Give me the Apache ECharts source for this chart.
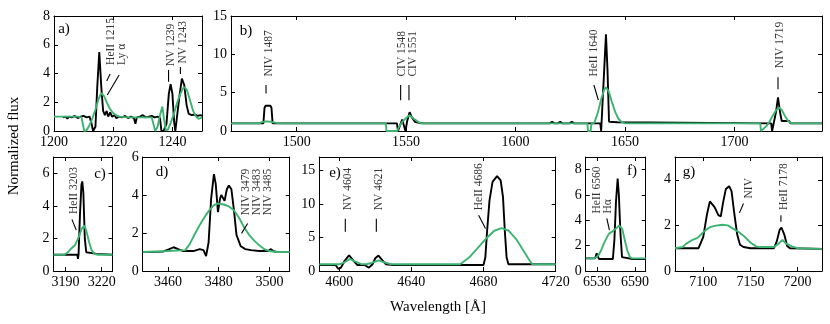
<!DOCTYPE html>
<html>
<head>
<meta charset="utf-8">
<script src="https://cdn.jsdelivr.net/npm/echarts@6/dist/echarts.min.js"></script>
<style>
  html, body { margin: 0; padding: 0; background: #fff; }
  #chart { width: 830px; height: 324px; }
</style>
</head>
<body>
<div id="chart"></div>
<script>
// observed (black) and model (green) spectra, [wavelength, flux]
const aObs = [[1203,0.95],[1204,1.0],[1204.5,0.85],[1205,1.0],[1206,0.95],[1207,1.05],[1208,0.9],[1209,1.0],[1210,1.05],[1211,0.95],[1212,1.0],[1212.6,0.6],[1213.2,0],[1214,0.3],[1214.6,3.0],[1215.3,5.5],[1216,3.0],[1216.6,1.4],[1217.2,1.1],[1217.8,1.4],[1218.3,1.0],[1219,1.3],[1219.6,1.0],[1220.5,1.1],[1221,0.9],[1222,1.0],[1223,0.95],[1224,1.05],[1225,0.9],[1226,1.0],[1227,0.9],[1227.5,0.5],[1228,0.95],[1229,1.0],[1230,1.1],[1231,0.95],[1232,1.0],[1233,1.05],[1234,0.95],[1235,1.0],[1235.8,0.9],[1236.3,0],[1237,0],[1238,0.5],[1238.8,2.6],[1239.4,3.25],[1240,2.6],[1240.6,0.6],[1241,0],[1241.6,0],[1242.3,2.3],[1243.2,3.65],[1244,3.2],[1244.8,1.8],[1245.5,1.2],[1246.5,1.1],[1247.5,1.15],[1248.5,1.05],[1249.5,1.1],[1250,1.05]];
const aFit = [[1200,1.0],[1205,1.0],[1208,1.0],[1209.3,0.95],[1210.2,0],[1211,0.05],[1212,0.4],[1213,0.9],[1214,1.5],[1215,2.2],[1216,2.65],[1217,2.4],[1218,1.9],[1219,1.5],[1220,1.25],[1221,1.1],[1222,1.0],[1225,0.95],[1230,0.95],[1233,0.95],[1233.6,0.9],[1234.2,0],[1235,0.3],[1235.8,1.1],[1236.6,1.7],[1237.2,0.8],[1237.8,0.05],[1238.5,0.1],[1239.5,0.6],[1240.5,1.2],[1241.5,1.9],[1242.5,2.5],[1243.5,2.95],[1244.2,3.05],[1245,2.8],[1246,2.1],[1247,1.4],[1248,1.0],[1248.8,0.85],[1249.5,0.9],[1250,0.95]];

const bObs = [[1470,1.0],[1484.8,1.0],[1485.3,3.0],[1485.8,3.3],[1488,3.3],[1488.5,3.0],[1489,1.0],[1545.8,1.0],[1546.3,0],[1547.2,0.2],[1548.2,1.5],[1549,1.3],[1549.7,0],[1550.5,1.3],[1551.6,2.45],[1552.6,1.8],[1554,1.2],[1556,1.05],[1558,1.0],[1615.5,1.0],[1616.7,1.2],[1617.8,1.0],[1619.3,1.0],[1620.4,1.2],[1621.5,1.0],[1624.6,1.0],[1625.7,1.2],[1626.8,1.0],[1638.7,1.0],[1639.1,0],[1639.6,0],[1640.5,8],[1641.3,12.6],[1642,8],[1642.7,1.2],[1646.5,1.15],[1647.2,1.0],[1716.8,1.0],[1717.2,0],[1718,0],[1719,2.5],[1719.9,4.4],[1720.8,2.5],[1721.6,1.3],[1725,1.3],[1725.6,1.0],[1740,1.0]];
const bFit = [[1470,1.0],[1483,1.0],[1484,1.15],[1486,1.25],[1488,1.2],[1490,1.1],[1492,1.0],[1540.8,1.0],[1541,0],[1546,0],[1546.5,0.4],[1548,1.1],[1550,1.7],[1551.6,2.05],[1553.5,1.6],[1555.5,1.2],[1557,1.0],[1632.8,1.0],[1633.1,0],[1634.3,0],[1634.6,0.9],[1636,1.1],[1637.5,2.3],[1639,4.0],[1640.5,5.4],[1641.3,5.7],[1642.5,5.2],[1644,3.8],[1645.5,2.5],[1647,1.6],[1648.5,1.15],[1650,1.0],[1711.8,1.0],[1712.1,0],[1713,0.1],[1714.5,0.6],[1716,1.2],[1717.5,2.0],[1719,2.7],[1720.2,3.05],[1721.5,2.8],[1723,2.0],[1724.5,1.3],[1726,1.0],[1740,1.0]];

const cObs = [[3180,1.0],[3199.8,1.0],[3200.3,0.75],[3200.8,1.0],[3202,3.5],[3203.2,5.3],[3203.9,5.5],[3204.8,4.8],[3206,2.0],[3207.2,1.15],[3212,1.1],[3216,1.05],[3229,1.0]];
const cFit = [[3180,1.0],[3189,1.0],[3192,1.15],[3195,1.4],[3198,1.6],[3201,2.1],[3203.5,2.6],[3205.6,2.8],[3207.5,2.4],[3209.5,1.8],[3211.5,1.3],[3214,1.05],[3217,1.0],[3229,1.0]];

const dObs = [[3450,1.0],[3458,1.02],[3460.5,1.15],[3462.2,1.25],[3464,1.15],[3466,1.05],[3470,1.05],[3472.5,1.15],[3474,1.1],[3475,0.78],[3476,1.5],[3477,3.8],[3478.1,5.1],[3478.8,4.6],[3479.7,3.1],[3480.5,3.8],[3481,4.0],[3482.3,3.7],[3483.2,4.3],[3484,4.5],[3485,4.3],[3486,3.2],[3487,1.9],[3488.7,1.3],[3490.5,1.15],[3492.7,1.1],[3496,1.05],[3499.5,1.05],[3500.6,1.15],[3501.5,1.05],[3503,1.0],[3508,1.0]];
const dFit = [[3450,1.0],[3460,1.05],[3466.8,1.1],[3468.5,1.4],[3470,1.8],[3472,2.3],[3474,2.75],[3476,3.15],[3478,3.45],[3479.4,3.55],[3482,3.5],[3484,3.4],[3486,3.2],[3488,2.8],[3490,2.3],[3492,1.9],[3494,1.6],[3496,1.35],[3498,1.15],[3500,1.05],[3503,1.0],[3508,1.0]];

const eObs = [[4589,0.9],[4598,0.9],[4599.6,0.3],[4601,0.5],[4603,1.5],[4605.5,2.35],[4608,1.5],[4610,0.9],[4614,0.9],[4616.5,0.5],[4618.5,1.0],[4620,1.9],[4621.8,2.3],[4624,1.6],[4626,1.0],[4630,0.9],[4680,0.9],[4681,2],[4682,6],[4683.3,10.5],[4685,13.3],[4687.5,14.15],[4689.5,13.5],[4690.8,11],[4691.8,6],[4692.8,2],[4693.8,1.0],[4720,1.0]];
const eFit = [[4589,1.0],[4600,1.0],[4603,1.3],[4606,1.8],[4609,1.4],[4612,1.05],[4615,1.0],[4618,1.2],[4622,1.6],[4625,1.3],[4628,1.05],[4632,1.0],[4667,1.0],[4672,2.0],[4677,3.5],[4682,5.0],[4686,6.0],[4690,6.4],[4694,6.0],[4698,4.8],[4702,3.1],[4705,1.8],[4707,1.0],[4720,1.0]];

const fObs = [[6512,1.0],[6527,1.0],[6529.4,1.4],[6531,1.2],[6533,0.95],[6555,0.95],[6557.5,2.5],[6560,5.5],[6562.6,7.3],[6564.5,6.0],[6567,3.0],[6569.5,1.1],[6571,0.95],[6586,0.95],[6607,0.95]];
const fFit = [[6512,1.0],[6525,1.0],[6529,1.1],[6533,1.3],[6537,1.7],[6541,2.2],[6545,2.6],[6549,2.95],[6555,3.15],[6560,3.35],[6565,3.6],[6567.5,3.7],[6570,3.3],[6574,2.4],[6578,1.6],[6582,1.1],[6586,1.0],[6607,1.0]];

const gObs = [[7070,1.0],[7095,1.0],[7100,1.5],[7104,2.5],[7107,3.05],[7109,3.1],[7112,2.8],[7116,2.45],[7118.6,2.4],[7121,3.0],[7124,3.6],[7127.4,3.72],[7130,3.5],[7133,2.5],[7136,1.6],[7139,1.15],[7142.7,1.05],[7150,1.0],[7175,1.0],[7178,1.3],[7181,1.8],[7183,1.9],[7186,1.6],[7189,1.1],[7192,1.0],[7226,0.97]];
const gFit = [[7070,1.0],[7078,1.05],[7082,1.2],[7088,1.35],[7094,1.45],[7100,1.7],[7106,1.9],[7112,1.98],[7120,2.03],[7126,2.0],[7132,1.85],[7138,1.7],[7144,1.5],[7150,1.25],[7156,1.08],[7160,1.05],[7175,1.05],[7180,1.2],[7184,1.36],[7188,1.2],[7194,1.08],[7200,1.0],[7226,0.97]];

// axis ranges and tick values
const xRanges = [[1200,1250],[1470,1740],[3180,3229],[3450,3508],[4589,4720],[6512,6607],[7070,7226]];
const yMaxes = [8, 15, 7, 6, 17, 9, 5];
const xTicks = [[1200,1220,1240],[1500,1550,1600,1650,1700],[3190,3220],[3460,3480,3500],[4600,4640,4680,4720],[6530,6590],[7100,7150,7200]];
const yTicks = [[0,2,4,6,8],[0,5,10,15],[0,2,4,6],[0,2,4,6],[0,5,10,15],[0,2,4,6,8],[0,2,4]];

// line labels: [wavelength, flux at text start, text]
const aNotes = [[1221.2,4.6,'HeII 1215\nLy α'],[1239.5,4.5,'NV 1239'],[1243.6,4.7,'NV 1243']];
const bNotes = [[1487.5,7.1,'NIV 1487'],[1547.9,7.1,'CIV 1548'],[1553.1,7.1,'CIV 1551'],[1636.0,7.1,'HeII 1640'],[1720.6,8.2,'NIV 1719']];
const cNotes = [[3197.3,3.5,'HeII 3203']];
const dNotes = [[3494.9,2.94,'NIV 3479\nNIV 3483\nNIV 3485']];
const eNotes = [[4604.7,9.06,'NV 4604'],[4621.9,9.06,'NV 4621'],[4677.3,9.06,'HeII 4686']];
const fNotes = [[6538.3,4.54,'HeII 6560\nHα']];
const gNotes = [[7148,3.18,'NIV'],[7185.5,2.67,'HeII 7178']];

// pointer strokes under the labels
const aMarks = [[[1218.96,3.97],[1217.8,3.48]],[[1222.0,3.9],[1218.0,2.5]],[[1238.7,4.24],[1238.7,3.43]],[[1242.7,4.45],[1242.7,3.97]]];
const bMarks = [[[1486,6.0],[1486,4.9]],[[1547.5,6.0],[1547.5,4.0]],[[1551.3,6.0],[1551.3,4.0]],[[1635.8,6.0],[1637.8,4.04]],[[1719.9,7.0],[1719.9,5.44]]];
const cMarks = [[[3195.3,3.17],[3198.9,2.51]]];
const dMarks = [[[3491.4,2.5],[3489,1.98]]];
const eMarks = [[[4603.4,7.8],[4603.4,5.84]],[[4620.6,7.8],[4620.6,5.84]],[[4677.3,8.32],[4681.1,6.34]]];
const fMarks = [[[6545.4,4.15],[6549.6,3.23]]];
const gMarks = [[[7142.7,2.96],[7138.4,2.55]],[[7182.4,2.45],[7182.4,2.16]]];

const panelNames = ['a)','b)','c)','d)','e)','f)','g)'];

const FONT = 'Liberation Serif';
const GREEN = '#3cb371';

// pixel boxes of the panels
const grids = [
  {left: 54, top: 16, width: 148, height: 115},
  {left: 231, top: 16, width: 591, height: 115},
  {left: 53.5, top: 157, width: 59, height: 114},
  {left: 142.7, top: 157, width: 147, height: 114},
  {left: 319.3, top: 157, width: 236.4, height: 114},
  {left: 585.7, top: 157, width: 60, height: 114},
  {left: 675, top: 157, width: 147, height: 114}
];
const labelPos = [[64,29],[246,31],[100,174],[162,172],[335,173],[632,171],[689,172]];

const obsAll = [aObs,bObs,cObs,dObs,eObs,fObs,gObs];
const fitAll = [aFit,bFit,cFit,dFit,eFit,fFit,gFit];
const notesAll = [aNotes,bNotes,cNotes,dNotes,eNotes,fNotes,gNotes];
const marksAll = [aMarks,bMarks,cMarks,dMarks,eMarks,fMarks,gMarks];

const xAxes = [], yAxes = [], series = [];

function axis(g, min, max, ticks, pos, labels) {
  return {
    type: 'value', gridIndex: g, min: min, max: max, position: pos,
    axisLine: {show: true, onZero: false, lineStyle: {color: '#000', width: 1}},
    axisTick: {show: true, inside: true, length: 4, customValues: ticks, lineStyle: {color: '#000', width: 1}},
    axisLabel: {show: labels, customValues: ticks, color: '#000', fontFamily: FONT, fontSize: 14, margin: 4,
      formatter: v => String(v)},
    splitLine: {show: false}
  };
}

grids.forEach((g, i) => {
  xAxes.push(axis(i, xRanges[i][0], xRanges[i][1], xTicks[i], 'bottom', true));
  xAxes.push(axis(i, xRanges[i][0], xRanges[i][1], xTicks[i], 'top', false));
  yAxes.push(axis(i, 0, yMaxes[i], yTicks[i], 'left', true));
  yAxes.push(axis(i, 0, yMaxes[i], yTicks[i], 'right', false));
  const ax = {xAxisIndex: 2 * i, yAxisIndex: 2 * i};
  series.push(Object.assign({type: 'line', data: obsAll[i], symbol: 'none', z: 3,
    lineStyle: {color: '#000', width: 1.9}}, ax));
  series.push(Object.assign({type: 'line', data: fitAll[i], symbol: 'none', z: 4,
    lineStyle: {color: GREEN, width: 1.9}}, ax));
  marksAll[i].forEach(m => {
    series.push(Object.assign({type: 'line', data: m, symbol: 'none', z: 5,
      lineStyle: {color: '#000', width: 1.1}}, ax));
  });
  series.push(Object.assign({
    type: 'scatter', z: 6, symbolSize: 1, itemStyle: {color: 'rgba(0,0,0,0)'},
    data: notesAll[i].map(n => ({value: [n[0], n[1]], label: {formatter: n[2]}})),
    label: {show: true, position: 'inside', rotate: 90, align: 'left', verticalAlign: 'middle',
      color: '#000', fontFamily: FONT, fontSize: 11.5, lineHeight: 11}
  }, ax));
});

const graphics = panelNames.map((t, i) => ({
  type: 'text', x: labelPos[i][0], y: labelPos[i][1],
  style: {text: t, font: '15px "Liberation Serif"', fill: '#000', textAlign: 'center', textVerticalAlign: 'middle'}
}));
graphics.push({type: 'text', x: 14, y: 146, rotation: Math.PI / 2,
  style: {text: 'Normalized flux', font: '15px "Liberation Serif"', fill: '#000', textAlign: 'center', textVerticalAlign: 'middle'}});
graphics.push({type: 'text', x: 438, y: 307,
  style: {text: 'Wavelength [Å]', font: '15px "Liberation Serif"', fill: '#000', textAlign: 'center', textVerticalAlign: 'middle'}});

const chart = echarts.init(document.getElementById('chart'));
chart.setOption({
  animation: false,
  backgroundColor: '#fff',
  grid: grids,
  xAxis: xAxes,
  yAxis: yAxes,
  series: series,
  graphic: graphics
});
</script>
</body>
</html>
